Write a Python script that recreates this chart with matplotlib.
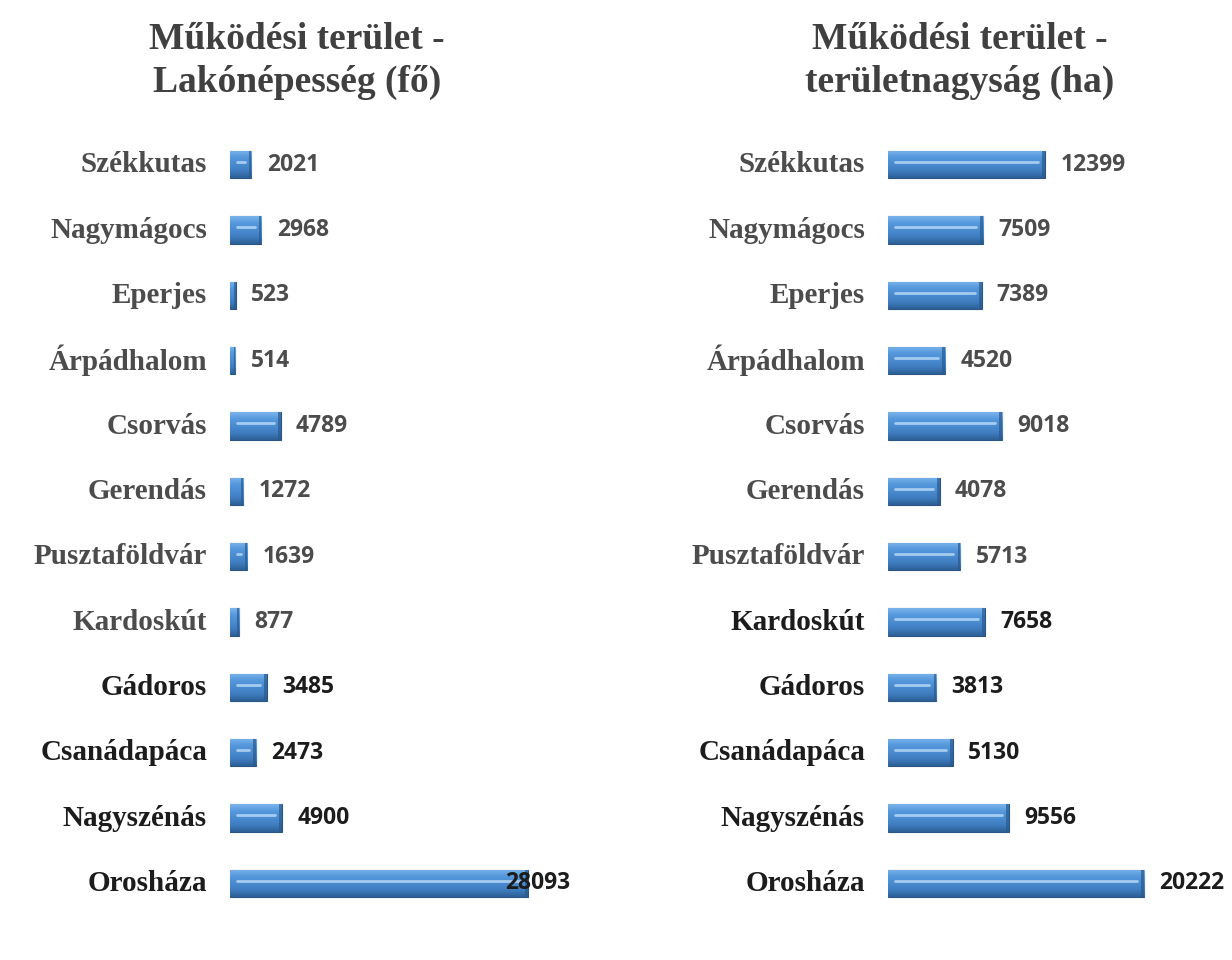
import numpy as np
import matplotlib.pyplot as plt
from matplotlib.colors import LinearSegmentedColormap

towns = ["Székkutas", "Nagymágocs", "Eperjes", "Árpádhalom", "Csorvás", "Gerendás",
         "Pusztaföldvár", "Kardoskút", "Gádoros", "Csanádapáca", "Nagyszénás", "Orosháza"]
population = [2021, 2968, 523, 514, 4789, 1272, 1639, 877, 3485, 2473, 4900, 28093]
area_ha = [12399, 7509, 7389, 4520, 9018, 4078, 5713, 7658, 3813, 5130, 9556, 20222]

title_left = "Működési terület -\nLakónépesség (fő)"
title_right = "Működési terület -\nterületnagyság (ha)"

W, H = 1232, 960
GRAY = "#4c4c4c"
DARK = "#1c1c1c"

# the scan has some rows printed darker than others
left_dark = [False] * 8 + [True] * 4
right_dark = [False] * 7 + [True] * 5

bar_cmap = LinearSegmentedColormap.from_list(
    "bevel", ["#7ab4ec", "#5598dc", "#4a8bd0", "#3f7dc0", "#2d5f96"])


def draw_panel(fig, left_px, right_px, xmax, values, dark, title, title_cx):
    ax = fig.add_axes([left_px / W, 44 / H, (right_px - left_px) / W, 784 / H])
    ax.set_xlim(0, xmax)
    ax.set_ylim(len(values) - 0.5, -0.5)
    ax.axis("off")
    h = 0.42
    grad = np.linspace(0, 1, 64).reshape(-1, 1)
    inset = xmax * 0.02
    for i, v in enumerate(values):
        patch = ax.barh(i, v, height=h, left=0, color="none",
                        edgecolor="#2a5584", linewidth=0.8)[0]
        im = ax.imshow(grad, cmap=bar_cmap, aspect="auto",
                       extent=[0, v, i + h / 2, i - h / 2], zorder=2)
        im.set_clip_path(patch)
        # darker bevel at the bar end
        end_w = min(inset * 0.4, v * 0.3)
        ax.barh(i, end_w, height=h, left=v - end_w,
                color="#2a5a8e", alpha=0.7, zorder=3)
        if v > 2.5 * inset:
            ax.plot([inset, v - inset], [i - h * 0.1, i - h * 0.1],
                    color="#b5d7f7", lw=2.0, alpha=0.85, zorder=3,
                    solid_capstyle="round")
        col = DARK if dark[i] else GRAY
        ax.text(-23 / (right_px - left_px) * xmax, i, towns[i], ha="right", va="center",
                fontsize=21, fontweight="bold", family="Liberation Serif",
                color=col, clip_on=False)
        t = ax.annotate(str(v), (v, i), xytext=(11, 0), textcoords="offset points",
                        ha="left", va="center", fontsize=16.5, fontweight="bold",
                        family="Open Sans", color=col, zorder=5)
        fig.canvas.draw()
        bb = t.get_window_extent()
        axbb = ax.get_window_extent()
        if bb.x1 > axbb.x1:
            # label does not fit outside the bar, pull it back in
            t.set_position((0, 0))
            t.xy = (xmax, i)
            t.set_ha("right")
    fig.text(title_cx / W, 1 - 61 / H, title, ha="center", va="center",
             fontsize=27, fontweight="bold", family="Liberation Serif",
             color="#404040", linespacing=1.3)
    return ax


fig = plt.figure(figsize=(W / 100, H / 100), dpi=100)
fig.patch.set_facecolor("white")

draw_panel(fig, 230, 570, 340 / 0.0106, population, left_dark, title_left, 297)
draw_panel(fig, 888, 1230, 342 / 0.01266, area_ha, right_dark, title_right, 960)

fig.savefig("out.png", dpi=100, facecolor="white")
